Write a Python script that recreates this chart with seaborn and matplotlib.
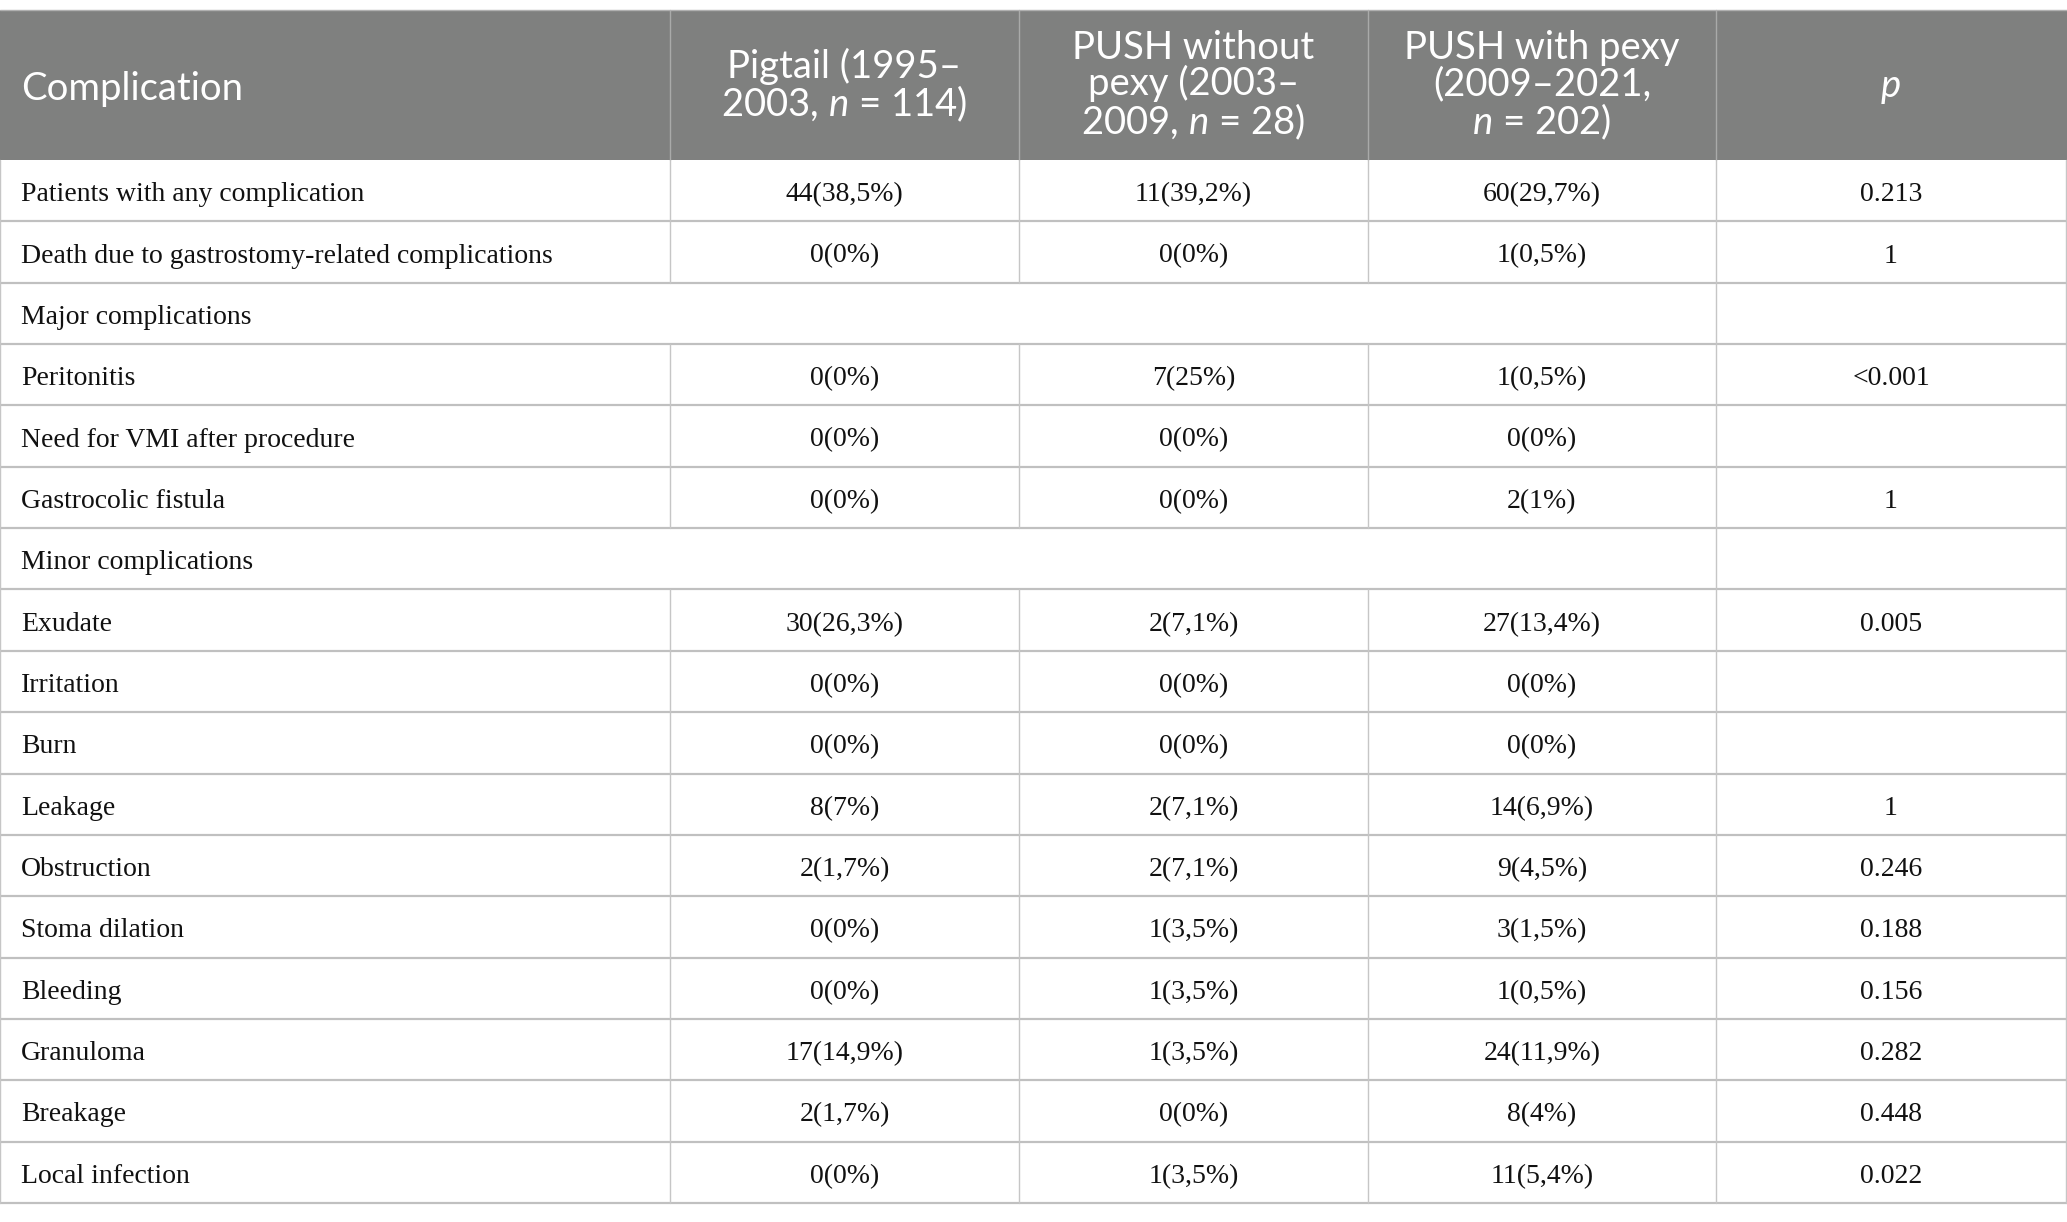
import matplotlib
matplotlib.use("Agg")
import matplotlib.pyplot as plt
import seaborn as sns

# DATA
complications = [
    "Patients with any complication",
    "Death due to gastrostomy-related complications",
    "Major complications",
    "Peritonitis",
    "Need for VMI after procedure",
    "Gastrocolic fistula",
    "Minor complications",
    "Exudate",
    "Irritation",
    "Burn",
    "Leakage",
    "Obstruction",
    "Stoma dilation",
    "Bleeding",
    "Granuloma",
    "Breakage",
    "Local infection",
]
# section rows have no values (None)
pigtail = ["44(38,5%)", "0(0%)", None, "0(0%)", "0(0%)", "0(0%)", None,
           "30(26,3%)", "0(0%)", "0(0%)", "8(7%)", "2(1,7%)", "0(0%)",
           "0(0%)", "17(14,9%)", "2(1,7%)", "0(0%)"]
push_no_pexy = ["11(39,2%)", "0(0%)", None, "7(25%)", "0(0%)", "0(0%)", None,
                "2(7,1%)", "0(0%)", "0(0%)", "2(7,1%)", "2(7,1%)", "1(3,5%)",
                "1(3,5%)", "1(3,5%)", "0(0%)", "1(3,5%)"]
push_pexy = ["60(29,7%)", "1(0,5%)", None, "1(0,5%)", "0(0%)", "2(1%)", None,
             "27(13,4%)", "0(0%)", "0(0%)", "14(6,9%)", "9(4,5%)", "3(1,5%)",
             "1(0,5%)", "24(11,9%)", "8(4%)", "11(5,4%)"]
p_values = ["0.213", "1", "", "<0.001", "", "1", "",
            "0.005", "", "", "1", "0.246", "0.188",
            "0.156", "0.282", "0.448", "0.022"]

headers = [
    "Complication",
    "Pigtail (1995–\n2003, $\\mathit{n}$ = 114)",
    "PUSH without\npexy (2003–\n2009, $\\mathit{n}$ = 28)",
    "PUSH with pexy\n(2009–2021,\n$\\mathit{n}$ = 202)",
    "p",
]

# STYLE / LAYOUT
sns.set_theme(style="white")
plt.rcParams["mathtext.fontset"] = "custom"
plt.rcParams["mathtext.it"] = "Lato:italic"
plt.rcParams["mathtext.rm"] = "Lato"

W, H = 2067, 1222
col_edges = [0, 670, 1019, 1368, 1716, 2066]
head_top, head_bot = 10, 160
row_h = 61.35
line_col = "#c0c0c0"
head_bg = "#7f807f"
head_font = "Lato"
body_font = "Liberation Serif"
head_size = 27.5
body_size = 20

fig = plt.figure(figsize=(W / 100, H / 100), dpi=100)
ax = fig.add_axes([0, 0, 1, 1])
ax.set_xlim(0, W)
ax.set_ylim(H, 0)
ax.axis("off")

# header
ax.axhspan(head_top, head_bot, color=head_bg, lw=0)
for x in col_edges[1:-1]:
    ax.plot([x, x], [head_top, head_bot], color="#a9aaa9", lw=1)
ax.plot([0, W], [head_top, head_top], color="#b0b0b0", lw=1)

hy = (head_top + head_bot) / 2
for j, h in enumerate(headers):
    if j == 0:
        ax.text(col_edges[0] + 21, hy + 4, h, ha="left", va="center", color="white",
                fontsize=head_size, family=head_font)
    else:
        cx = (col_edges[j] + col_edges[j + 1]) / 2
        ax.text(cx, hy + 1, h, ha="center", va="center", color="white",
                fontsize=head_size, family=head_font, linespacing=0.98,
                style="italic" if h == "p" else "normal")

# body rows
n = len(complications)
for i in range(n):
    top = head_bot + i * row_h
    bot = top + row_h
    cy = (top + bot) / 2 + 4
    section = pigtail[i] is None
    ax.plot([0, W], [bot, bot], color=line_col, lw=1.6)
    # vertical separators
    edges = [col_edges[0], col_edges[4], col_edges[5]] if section else col_edges
    for x in edges:
        ax.plot([x, x], [top, bot], color="#c6c6c6", lw=1)
    ax.text(col_edges[0] + 21, cy, complications[i], ha="left", va="center",
            fontsize=body_size, family=body_font, color="#111111")
    if section:
        continue
    for j, vals in enumerate([pigtail, push_no_pexy, push_pexy, p_values], start=1):
        cx = (col_edges[j] + col_edges[j + 1]) / 2
        ax.text(cx, cy, vals[i], ha="center", va="center",
                fontsize=body_size, family=body_font, color="#111111")

fig.savefig("out.png", dpi=100, facecolor="white")
